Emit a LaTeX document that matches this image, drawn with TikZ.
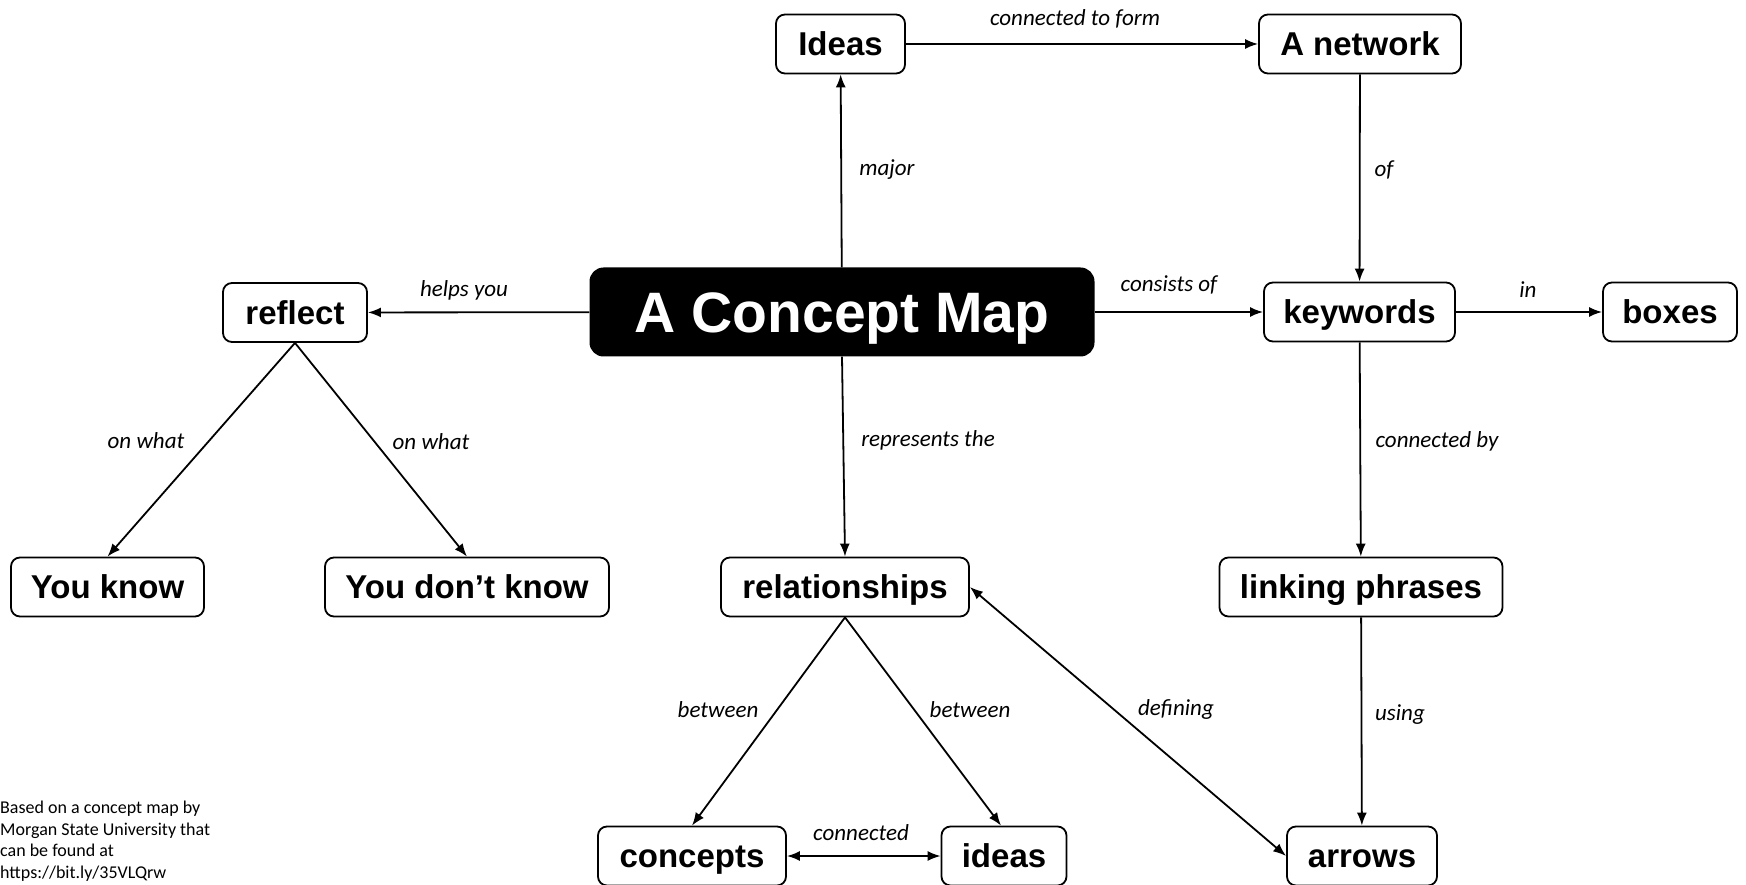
\documentclass[tikz,border=0pt]{standalone}
\usepackage{fontspec}
\setmainfont{Liberation Sans}
\newfontfamily\labfont{Carlito}
\usetikzlibrary{arrows.meta}
\begin{document}
\begin{tikzpicture}[x=1pt,y=-1pt,
  box/.style={draw, line width=1.8pt, rounded corners=9pt, minimum height=59pt, inner sep=0pt,
    text height=26.8pt, text depth=3.2pt, font=\fontsize{33}{33}\selectfont\bfseries},
  mainbox/.style={fill=black, text=white, rounded corners=14pt, minimum height=89pt, minimum width=505pt,
    inner sep=0pt, text height=46.4pt, text depth=5.6pt, font=\fontsize{57}{57}\selectfont\bfseries},
  lab/.style={font=\labfont\itshape\fontsize{23}{23}\selectfont, inner sep=0pt},
  tip/.tip={Latex[length=13pt,width=10pt]},
  arr/.style={line width=1.8pt, -tip},
  darr/.style={line width=1.8pt, tip-tip}]
\useasboundingbox[fill=white] (0,0) rectangle (1746,885);

\node[mainbox] (main) at (842,312) {A Concept Map};
\node[box, minimum width=129pt] (ideas) at (840.5,44) {Ideas};
\node[box, minimum width=202pt] (network) at (1360,44) {A network};
\node[box, minimum width=144pt] (reflect) at (295,312.5) {reflect};
\node[box, minimum width=191pt] (keywords) at (1359.5,312) {keywords};
\node[box, minimum width=134pt] (boxes) at (1670,312) {boxes};
\node[box, minimum width=193pt] (youknow) at (107.5,587) {You know};
\node[box, minimum width=284pt] (youdont) at (467,587) {You don’t know};
\node[box, minimum width=248pt] (rel) at (845,587) {relationships};
\node[box, minimum width=283pt] (linking) at (1361,587) {linking phrases};
\node[box, minimum width=188pt] (concepts) at (692,856) {concepts};
\node[box, minimum width=125pt] (ideas2) at (1004,856) {ideas};
\node[box, minimum width=150pt] (arrows) at (1362,856) {arrows};

\draw[arr] (main) -- (ideas);
\draw[arr] (ideas) -- (network);
\draw[arr] (network) -- (keywords);
\draw[arr] (main) -- (keywords);
\draw[arr] (keywords) -- (boxes);
\draw[arr] (main) -- (reflect);
\draw[arr] (reflect.south) -- (youknow.north);
\draw[arr] (reflect.south) -- (youdont.north);
\draw[arr] (main.south) -- (rel.north);
\draw[arr] (rel.south) -- (concepts.north);
\draw[arr] (rel.south) -- ([xshift=-3pt]ideas2.north);
\draw[darr] (concepts) -- (ideas2);
\draw[darr] (rel.east) -- (arrows.west);
\draw[arr] (keywords) -- (linking);
\draw[arr] (linking) -- (arrows);

\node[lab] (l1) at (1075,19) {connected to form};
\node[lab] (l2) at (464,290) {helps you};
\node[lab] (l3) at (1169,285) {consists of};
\node[lab] (l4) at (1528,290) {in};
\node[lab] (l5) at (887,170) {major};
\node[lab] (l6) at (1384,170) {of};
\node[lab] (l7) at (146,441) {on what};
\node[lab] (l8) at (431,442) {on what};
\node[lab] (l9) at (928,440) {represents the};
\node[lab] (l10) at (1437,441) {connected by};
\node[lab] (l11) at (718,710) {between};
\node[lab] (l12) at (970,710) {between};
\node[lab] (l13) at (1176,709) {defining};
\node[lab] (l14) at (1400,715) {using};
\node[lab] (l15) at (861,833) {connected};

\node[anchor=north west, align=left, inner sep=0pt, font=\labfont\fontsize{18}{21.5}\selectfont] (note) at (0,801)
  {Based on a concept map by\\Morgan State University that\\can be found at\\https://bit.ly/35VLQrw};
\end{tikzpicture}
\end{document}
